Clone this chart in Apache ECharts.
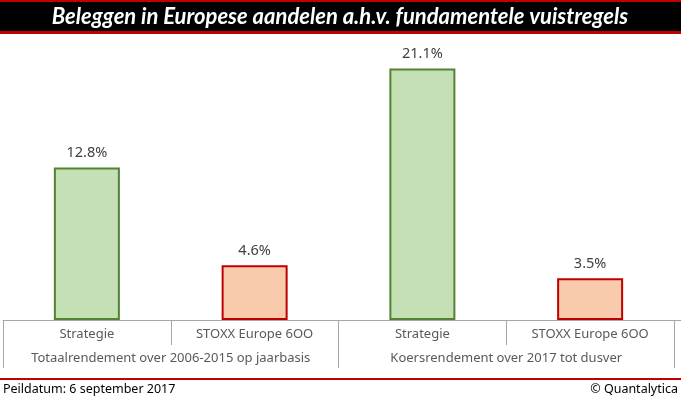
<!DOCTYPE html>
<html>
<head>
<meta charset="utf-8">
<script src="https://cdn.jsdelivr.net/npm/echarts@6/dist/echarts.min.js"></script>
<style>
  html, body { margin: 0; padding: 0; background: #fff; }
  #chart { width: 681px; height: 399px; }
</style>
</head>
<body>
<div id="chart"></div>
<script>
// categorie-labels en waarden
const categories = ["Strategie", "STOXX Europe 6OO", "Strategie", "STOXX Europe 6OO"];
const groups = ["Totaalrendement over 2006-2015 op jaarbasis", "Koersrendement over 2017 tot dusver"];
const values = [12.8, 4.6, 21.1, 3.5];
const kinds = ["strategie", "index", "strategie", "index"];

const styles = {
  strategie: { color: "#C5E0B4", borderColor: "#548235", borderWidth: 2 },
  index: { color: "#F8CBAD", borderColor: "#C00000", borderWidth: 2 },
};

const chart = echarts.init(document.getElementById("chart"));
const font = "'Noto Sans', sans-serif";

const option = {
  animation: false,
  grid: { left: 3, right: 7, top: 34, bottom: 79 },
  graphic: [
    // titelbalk
    { type: "rect", shape: { x: 0, y: 0, width: 681, height: 34 }, style: { fill: "#C00000" } },
    { type: "rect", shape: { x: 0, y: 2, width: 681, height: 29 }, style: { fill: "#000" } },
    {
      type: "text", x: 340, y: 17,
      style: {
        text: "Beleggen in Europese aandelen a.h.v. fundamentele vuistregels",
        fill: "#fff", font: "italic bold 22px Lato, sans-serif",
        align: "center", verticalAlign: "middle",
      },
    },
    // voettekst
    { type: "rect", shape: { x: 0, y: 378, width: 681, height: 2 }, style: { fill: "#C00000" } },
    { type: "line", shape: { x1: 674, y1: 320.5, x2: 681, y2: 320.5 }, style: { stroke: "#A6A6A6", lineWidth: 1 } },
    {
      type: "text", x: 3, y: 389,
      style: { text: "Peildatum: 6 september 2017", fill: "#000", font: "12.5px " + font, verticalAlign: "middle" },
    },
    {
      type: "text", x: 678, y: 389,
      style: { text: "© Quantalytica", fill: "#000", font: "12.5px " + font, align: "right", verticalAlign: "middle" },
    },
  ],
  xAxis: [
    {
      type: "category",
      data: categories,
      axisLine: { show: true, lineStyle: { color: "#A6A6A6" } },
      axisTick: { show: true, interval: 0, length: 25, lineStyle: { color: "#A6A6A6" } },
      axisLabel: { interval: 0, margin: 8, color: "#595959", fontSize: 13, fontFamily: font },
    },
    {
      type: "category",
      position: "bottom",
      data: groups,
      axisLine: { show: false },
      axisTick: { show: true, interval: 0, length: 48, lineStyle: { color: "#A6A6A6" } },
      axisLabel: { interval: 0, margin: 32, color: "#595959", fontSize: 13, fontFamily: font },
    },
  ],
  yAxis: { type: "value", min: 0, max: 24, show: false },
  series: [
    {
      type: "bar",
      barWidth: 66,
      xAxisIndex: 0,
      data: values.map((v, i) => ({ value: v, itemStyle: styles[kinds[i]] })),
      label: {
        show: true,
        position: "top",
        distance: 7,
        color: "#404040",
        fontSize: 14.5,
        fontFamily: font,
        formatter: (p) => p.value.toFixed(1) + "%",
      },
    },
  ],
};

chart.setOption(option);
</script>
</body>
</html>
